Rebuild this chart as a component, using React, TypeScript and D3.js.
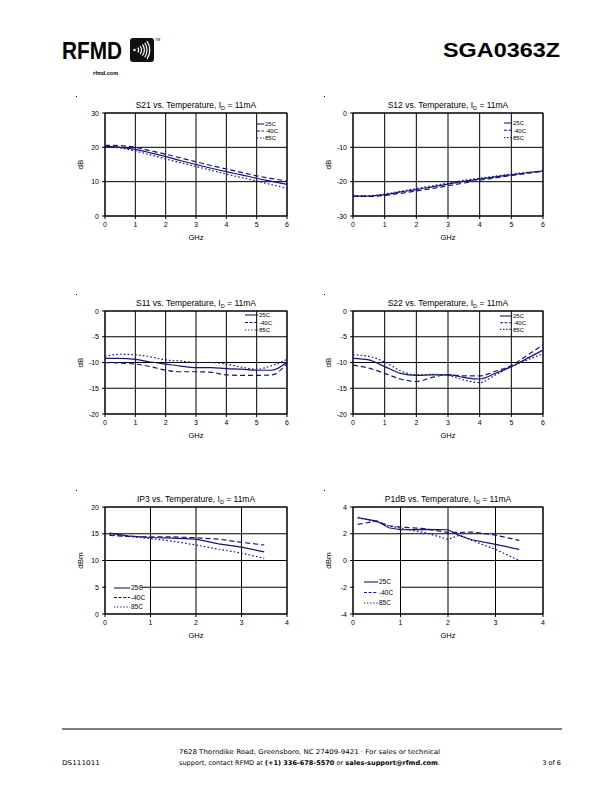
import React from 'react';
import * as d3 from 'd3';

// frequency grid (GHz) for the S-parameter plots
const freqS = [0, 0.5, 1, 1.5, 2, 2.5, 3, 3.5, 4, 4.5, 5, 5.5, 6];

const s21_25 = [20.3, 20.0, 19.4, 18.4, 17.3, 16.1, 15.0, 13.9, 12.9, 12.0, 11.0, 10.1, 9.2];
const s21_m40 = [20.6, 20.5, 20.0, 19.0, 18.0, 16.9, 15.8, 14.7, 13.7, 12.7, 11.7, 10.9, 10.2];
const s21_85 = [20.4, 19.8, 18.9, 17.8, 16.6, 15.5, 14.4, 13.3, 12.2, 11.2, 10.2, 9.1, 8.1];

const s12_25 = [-24.2, -24.2, -23.8, -23.0, -22.3, -21.5, -20.7, -19.9, -19.2, -18.6, -18.0, -17.4, -16.9];
const s12_m40 = [-24.3, -24.3, -24.0, -23.4, -22.7, -22.0, -21.2, -20.4, -19.6, -18.9, -18.2, -17.6, -17.0];
const s12_85 = [-24.0, -24.1, -23.6, -22.8, -22.0, -21.2, -20.4, -19.6, -19.0, -18.4, -17.8, -17.3, -16.9];

const s11_25 = [-9.2, -9.2, -9.4, -9.9, -10.3, -10.7, -11.0, -11.0, -11.2, -11.3, -11.5, -11.5, -9.9];
const s11_m40 = [-10.0, -10.1, -10.3, -10.8, -11.5, -11.8, -11.8, -11.9, -12.4, -12.5, -12.5, -12.4, -10.2];
const s11_85 = [-8.8, -8.4, -8.5, -8.9, -9.5, -9.7, -10.0, -10.0, -10.3, -10.9, -11.3, -10.6, -9.4];

const s22_25 = [-9.2, -9.5, -10.8, -12.1, -12.5, -12.4, -12.4, -12.9, -13.2, -12.1, -10.8, -9.2, -7.6];
const s22_m40 = [-10.5, -11.1, -12.1, -13.2, -13.7, -12.9, -12.4, -12.6, -12.6, -11.7, -10.6, -8.6, -6.6];
const s22_85 = [-8.5, -8.8, -9.9, -11.6, -12.4, -12.3, -12.5, -13.4, -13.9, -12.4, -10.8, -9.5, -8.3];

// IP3
const freqIP3 = [0.1, 0.5, 1, 1.5, 2, 2.5, 3, 3.5];
const ip3_25 = [15.1, 14.6, 14.3, 14.2, 14.0, 13.1, 12.5, 11.6];
const ip3_m40 = [14.7, 14.5, 14.4, 14.4, 14.25, 14.0, 13.4, 12.9];
const ip3_85 = [14.9, 14.5, 14.1, 13.6, 12.9, 12.1, 11.4, 10.4];

// P1dB
const freqP1 = [0.1, 0.5, 0.75, 1, 1.5, 2, 2.25, 2.5, 3, 3.5];
const p1_25 = [3.2, 2.95, 2.45, 2.3, 2.33, 2.3, 1.85, 1.55, 1.2, 0.83];
const p1_m40 = [2.7, 2.95, 2.6, 2.5, 2.38, 2.1, 2.1, 2.13, 1.9, 1.5];
const p1_85 = [3.2, 2.9, 2.6, 2.4, 2.1, 1.58, 1.9, 1.5, 0.83, 0.0];

const seriesNames = ['25C', '-40C', '85C'];

const NAVY = '#14147f';
const FONT = '"Liberation Sans", Arial, sans-serif';
const FOOT_FONT = '"DejaVu Sans", sans-serif';
const plotDash = [null, '5,3', '1.6,2.2'];
const legDash = [null, '3,1.6', '1.3,1.8'];

// layout of the six panels
const panels = [
  { title: 'S21', l: 105, t: 113, r: 287, b: 216, xd: [0, 6], yd: [0, 30], xt: d3.range(0, 7), yt: [0, 10, 20, 30],
    x: freqS, ys: [s21_25, s21_m40, s21_85], yl: 'dB', smooth: true,
    leg: { x: 257, y: 124, dy: 7, len: 7, fs: 6, box: false } },
  { title: 'S12', l: 353, t: 113, r: 543, b: 216, xd: [0, 6], yd: [-30, 0], xt: d3.range(0, 7), yt: [-30, -20, -10, 0],
    x: freqS, ys: [s12_25, s12_m40, s12_85], yl: 'dB', smooth: true,
    leg: { x: 504, y: 123, dy: 7.3, len: 8, fs: 6, box: false } },
  { title: 'S11', l: 105, t: 311, r: 287, b: 414, xd: [0, 6], yd: [-20, 0], xt: d3.range(0, 7), yt: [-20, -15, -10, -5, 0],
    x: freqS, ys: [s11_25, s11_m40, s11_85], yl: 'dB', smooth: true,
    leg: { x: 245, y: 315, dy: 7.5, len: 13, fs: 6, box: false } },
  { title: 'S22', l: 353, t: 311, r: 543, b: 414, xd: [0, 6], yd: [-20, 0], xt: d3.range(0, 7), yt: [-20, -15, -10, -5, 0],
    x: freqS, ys: [s22_25, s22_m40, s22_85], yl: 'dB', smooth: true,
    leg: { x: 500, y: 316, dy: 6.7, len: 12, fs: 6, box: false } },
  { title: 'IP3', l: 105, t: 507, r: 287, b: 614, xd: [0, 4], yd: [0, 20], xt: d3.range(0, 5), yt: [0, 5, 10, 15, 20],
    x: freqIP3, ys: [ip3_25, ip3_m40, ip3_85], yl: 'dBm', smooth: false,
    leg: { x: 114, y: 588, dy: 9.5, len: 16, fs: 6.5, box: true, bw: 34 } },
  { title: 'P1dB', l: 353, t: 507, r: 543, b: 614, xd: [0, 4], yd: [-4, 4], xt: d3.range(0, 5), yt: [-4, -2, 0, 2, 4],
    x: freqP1, ys: [p1_25, p1_m40, p1_85], yl: 'dBm', smooth: false,
    leg: { x: 364, y: 582, dy: 10.5, len: 14, fs: 6.5, box: true, bw: 46 } },
];

function Panel({ p }: { p: any }) {
  const x = d3.scaleLinear().domain(p.xd).range([p.l, p.r]);
  const y = d3.scaleLinear().domain(p.yd).range([p.b, p.t]);
  const line = d3.line<number>()
    .x((d, i) => x(p.x[i]))
    .y(d => y(d))
    .curve(p.smooth ? d3.curveMonotoneX : d3.curveLinear);
  const cx = (p.l + p.r) / 2;
  const cy = (p.t + p.b) / 2;
  const lg = p.leg;
  return (
    <g fontFamily={FONT}>
      <rect x={p.l - 29} y={p.t - 17} width={1} height={1} fill="#000" />
      <text x={cx} y={p.t - 5.5} fontSize={8.5} textAnchor="middle">
        {p.title} vs. Temperature, I
        <tspan dy={2} fontSize={5.5}>D</tspan>
        <tspan dy={-2}> = 11mA</tspan>
      </text>
      {/* grid */}
      {p.xt.map((t: number) => (
        <line key={'gx' + t} x1={x(t)} x2={x(t)} y1={p.t} y2={p.b + 3} stroke="#000" strokeWidth={1} />
      ))}
      {p.yt.map((t: number) => (
        <line key={'gy' + t} x1={p.l - 3} x2={p.r} y1={y(t)} y2={y(t)} stroke="#000" strokeWidth={1} />
      ))}
      <rect x={p.l} y={p.t} width={p.r - p.l} height={p.b - p.t} fill="none" stroke="#000" strokeWidth={1} />
      {/* tick labels */}
      {p.xt.map((t: number) => (
        <text key={'lx' + t} x={x(t)} y={p.b + 11} fontSize={7} textAnchor="middle">{String(t)}</text>
      ))}
      {p.yt.map((t: number) => (
        <text key={'ly' + t} x={p.l - 6} y={y(t) + 2.5} fontSize={7} textAnchor="end">{String(t)}</text>
      ))}
      <text x={cx} y={p.b + 23.5} fontSize={7.5} textAnchor="middle">GHz</text>
      <text transform={`translate(${p.l - 22},${cy}) rotate(-90)`} fontSize={8} textAnchor="middle">{p.yl}</text>
      {/* series */}
      {p.ys.map((s: number[], i: number) => (
        <path key={'s' + i} d={line(s) || ''} fill="none" stroke={NAVY} strokeWidth={1.2}
          strokeDasharray={plotDash[i] || undefined} />
      ))}
      {/* legend */}
      {lg.box && (
        <rect x={p.l + 1} y={lg.y - 7} width={lg.bw} height={lg.dy * 3 + 3} fill="#fff" />
      )}
      {seriesNames.map((n, i) => (
        <g key={'lg' + i}>
          <line x1={lg.x} x2={lg.x + lg.len} y1={lg.y + i * lg.dy} y2={lg.y + i * lg.dy} stroke={NAVY}
            strokeWidth={1.1} strokeDasharray={legDash[i] || undefined} />
          <text x={lg.x + lg.len + 1} y={lg.y + i * lg.dy + 2.2} fontSize={lg.fs}>{n}</text>
        </g>
      ))}
    </g>
  );
}

function Logo() {
  const cx = 134.5;
  const cy = 50;
  const arc = d3.arc();
  const radii = [3.5, 6.3, 9.1, 11.9, 14.7];
  return (
    <g>
      <text x={62} y={58.5} fontFamily={FONT} fontWeight="bold" fontSize={23} textLength={60}
        lengthAdjust="spacingAndGlyphs">RFMD</text>
      <rect x={130} y={38} width={24} height={24} rx={3} fill="#111" />
      <circle cx={cx} cy={cy} r={1.2} fill="#fff" />
      {radii.map((r, i) => (
        <path key={i} transform={`translate(${cx},${cy})`}
          d={arc({ innerRadius: r, outerRadius: r + 1.2, startAngle: Math.PI / 2 - 0.62, endAngle: Math.PI / 2 + 0.62 }) || ''}
          fill="#fff" />
      ))}
      <text x={155} y={40.5} fontFamily={FONT} fontSize={3.5}>TM</text>
      <text x={93} y={75} fontFamily={FONT} fontWeight="bold" fontSize={5.5}>rfmd.com</text>
    </g>
  );
}

export default function App() {
  return (
    <svg width={612} height={792} style={{ position: 'absolute', left: 0, top: 0, background: '#fff' }}>
      <rect width={612} height={792} fill="#fff" />
      <Logo />
      <text x={560} y={56.5} fontFamily={FONT} fontWeight="bold" fontSize={21} textAnchor="end" textLength={117}
        lengthAdjust="spacingAndGlyphs">SGA0363Z</text>
      {panels.map((p, i) => <Panel key={i} p={p} />)}
      <line x1={62} x2={562} y1={729} y2={729} stroke="#000" strokeWidth={1} />
      <g fontFamily={FOOT_FONT} fontSize={6.5}>
        <text x={62} y={765} textLength={38} lengthAdjust="spacingAndGlyphs">DS111011</text>
        <text x={179} y={754} textLength={261} lengthAdjust="spacingAndGlyphs">7628 Thorndike Road, Greensboro, NC  27409-9421 · For sales or technical</text>
        <text x={179} y={765} textLength={261} lengthAdjust="spacingAndGlyphs">
          support, contact RFMD at <tspan fontWeight="bold">(+1) 336-678-5570</tspan> or{' '}
          <tspan fontWeight="bold">sales-support@rfmd.com</tspan>.
        </text>
        <text x={561} y={765} textAnchor="end">3 of 6</text>
      </g>
    </svg>
  );
}
